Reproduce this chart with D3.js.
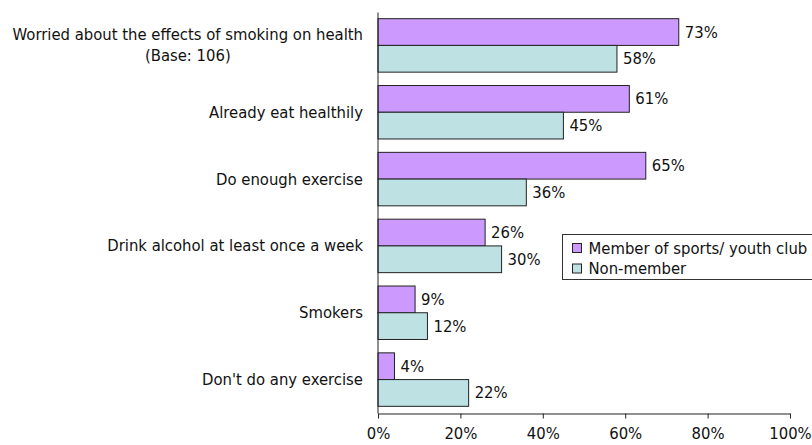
<!DOCTYPE html>
<html>
<head>
<meta charset="utf-8">
<script src="https://cdn.jsdelivr.net/npm/d3@7"></script>
<style>
  html, body { margin: 0; padding: 0; background: #fff; }
  svg { display: block; }
  text { font-family: "DejaVu Sans Condensed", "DejaVu Sans", sans-serif; fill: #111; }
</style>
</head>
<body>
<svg id="chart" width="812" height="445"></svg>
<script>
const categories = [
  "Worried about the effects of smoking on health\n(Base: 106)",
  "Already eat healthily",
  "Do enough exercise",
  "Drink alcohol at least once a week",
  "Smokers",
  "Don't do any exercise"
];
const seriesNames = ["Member of sports/ youth club", "Non-member"];
const memberValues = [73, 61, 65, 26, 9, 4];
const nonMemberValues = [58, 45, 36, 30, 12, 22];
const tickValues = [0, 20, 40, 60, 80, 100];
const seriesColors = ["#CC99FF", "#BEE1E4"];

const svg = d3.select("#chart");

// size the font so the longest label spans its width in the reference (~351px)
const probe = svg.append("text").style("font-size", "15px").text(categories[0].split("\n")[0]);
const probeW = probe.node().getComputedTextLength();
probe.remove();
const fontSize = Math.round(15 * 351 / probeW * 10) / 10;

const x = d3.scaleLinear().domain([0, 100]).range([378, 790]);
const y = d3.scaleBand().domain(categories).range([12, 413]).paddingInner(0.2).paddingOuter(0.1);
const ySub = d3.scaleBand().domain(seriesNames).range([0, y.bandwidth()]);

const seriesValues = [memberValues, nonMemberValues];

// bars
seriesNames.forEach((name, si) => {
  const g = svg.append("g");
  g.selectAll("rect").data(categories).join("rect")
    .attr("x", x(0))
    .attr("y", (c) => y(c) + ySub(name))
    .attr("width", (c, i) => x(seriesValues[si][i]) - x(0))
    .attr("height", ySub.bandwidth())
    .attr("fill", seriesColors[si])
    .attr("stroke", "#222")
    .attr("stroke-width", 1);
  g.selectAll("text").data(categories).join("text")
    .attr("x", (c, i) => x(seriesValues[si][i]) + 6)
    .attr("y", (c) => y(c) + ySub(name) + ySub.bandwidth() / 2)
    .attr("dominant-baseline", "central")
    .style("font-size", fontSize + "px")
    .text((c, i) => seriesValues[si][i] + "%");
});

// x axis
const xAxis = d3.axisBottom(x).tickValues(tickValues).tickFormat(d => d + "%").tickSize(5).tickSizeOuter(0).tickPadding(9);
const gx = svg.append("g").attr("transform", "translate(0,413.5)").call(xAxis);
gx.select(".domain").attr("stroke", "#222");
gx.selectAll(".tick line").attr("stroke", "#222");
gx.selectAll(".tick text").style("font-size", fontSize + "px").attr("fill", "#111").attr("font-family", null);

// y axis (line only, custom labels)
const yAxis = d3.axisLeft(y).tickSize(0).tickSizeOuter(0).tickFormat("");
const gy = svg.append("g").attr("transform", "translate(377.5,0)").call(yAxis);
gy.select(".domain").attr("stroke", "#222");

// category labels
const labelRight = 363;
const lg = svg.append("g");
categories.forEach((c) => {
  const lines = c.split("\n");
  const cy = y(c) + y.bandwidth() / 2;
  const lh = 21;
  const first = lg.append("text")
    .attr("x", labelRight)
    .attr("y", cy - (lines.length - 1) * lh / 2)
    .attr("text-anchor", "end")
    .attr("dominant-baseline", "central")
    .style("font-size", fontSize + "px")
    .text(lines[0]);
  if (lines.length > 1) {
    const w = first.node().getComputedTextLength();
    for (let k = 1; k < lines.length; k++) {
      lg.append("text")
        .attr("x", labelRight - w / 2)
        .attr("y", cy - (lines.length - 1) * lh / 2 + k * lh)
        .attr("text-anchor", "middle")
        .attr("dominant-baseline", "central")
        .style("font-size", fontSize + "px")
        .text(lines[k]);
    }
  }
});

// legend
const leg = svg.append("g").attr("transform", "translate(562.5,234.5)");
leg.append("rect").attr("x", 0).attr("y", 0).attr("width", 262).attr("height", 45)
  .attr("fill", "#fff").attr("stroke", "#333").attr("stroke-width", 1);
seriesNames.forEach((name, i) => {
  const row = leg.append("g").attr("transform", `translate(10,${13.5 + i * 20.5})`);
  row.append("rect").attr("x", 0).attr("y", -4.5).attr("width", 9).attr("height", 9)
    .attr("fill", seriesColors[i]).attr("stroke", "#222").attr("stroke-width", 1);
  row.append("text").attr("x", 16).attr("y", 0)
    .attr("dominant-baseline", "central")
    .style("font-size", fontSize + "px")
    .text(name);
});
</script>
</body>
</html>
